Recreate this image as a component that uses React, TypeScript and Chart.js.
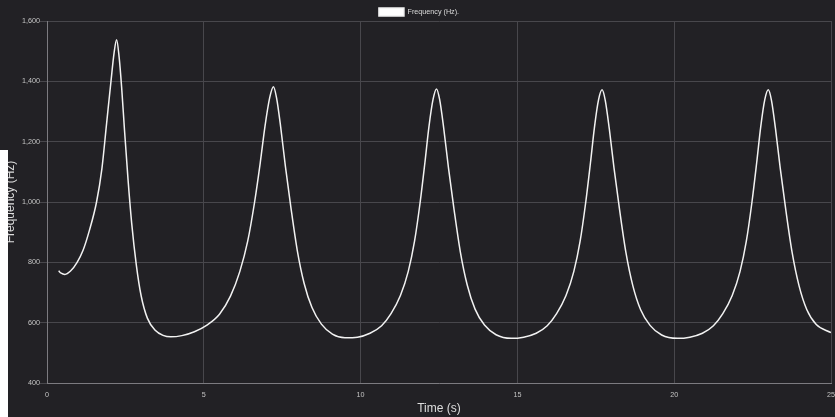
import { useEffect, useRef } from "react";
import { Chart, registerables } from "chart.js";

Chart.register(...registerables);

const BG = "#222125";

const seriesLabel = "Frequency (Hz).";
const xTitle = "Time (s)";
const yTitle = "Frequency (Hz)";

const times = [
  0.37, 0.45, 0.57, 0.75, 0.96, 1.15, 1.35, 1.58, 1.75, 1.9, 2.04, 2.14, 2.22, 2.3, 2.38, 2.47, 2.58, 2.7, 2.85, 3.0,
  3.2, 3.45, 3.7, 3.95, 4.3, 4.7, 5.1, 5.5, 5.85, 6.15, 6.4, 6.62, 6.8, 6.95, 7.1, 7.22, 7.32, 7.45, 7.6, 7.78,
  7.98, 8.2, 8.45, 8.75, 9.1, 9.5, 9.9, 10.3, 10.67, 10.97, 11.27, 11.52, 11.72, 11.9, 12.05, 12.18, 12.31, 12.42,
  12.52, 12.65, 12.8, 12.98, 13.18, 13.4, 13.65, 13.95, 14.32, 14.8, 15.2, 15.6, 15.95, 16.25, 16.55, 16.8, 17.0,
  17.18, 17.33, 17.46, 17.59, 17.7, 17.8, 17.93, 18.08, 18.26, 18.46, 18.68, 18.93, 19.23, 19.6, 20.1, 20.5, 20.9,
  21.25, 21.55, 21.85, 22.1, 22.3, 22.48, 22.63, 22.76, 22.89, 23.0, 23.1, 23.23, 23.38, 23.56, 23.76, 23.98, 24.23,
  24.53, 25.0,
];

const freqs = [
  772, 764, 760, 771, 800, 840, 905, 1000, 1110, 1260, 1400, 1495, 1538, 1480, 1380, 1240, 1080, 930, 790, 690,
  615, 575, 558, 553, 557, 570, 592, 628, 688, 770, 870, 1000, 1130, 1250, 1345, 1382, 1345, 1250, 1120, 980,
  840, 730, 650, 595, 562, 550, 552, 565, 590, 630, 690, 770, 870, 1000, 1130, 1250, 1340, 1375,
  1340, 1245, 1115, 975, 835, 725, 645, 592, 560, 548, 552, 565, 590, 630, 690, 770, 870,
  1000, 1130, 1250, 1340, 1372, 1338, 1243, 1113, 973, 833, 723, 643, 591, 559, 548, 552, 565,
  590, 630, 690, 770, 870, 1000, 1130, 1250, 1340, 1372, 1338, 1243, 1113, 973, 833, 723, 643,
  594, 567,
];

export default function App() {
  const ref = useRef<HTMLCanvasElement | null>(null);

  useEffect(() => {
    if (!ref.current) return;
    Chart.defaults.font.family = "'Liberation Sans', Arial, sans-serif";
    const bgPlugin = {
      id: "bg",
      beforeDraw(c: any) {
        const ctx = c.ctx;
        ctx.save();
        ctx.fillStyle = BG;
        ctx.fillRect(0, 0, c.width, c.height);
        ctx.restore();
      },
    };
    const chart = new Chart(ref.current, {
      type: "line",
      data: {
        datasets: [
          {
            label: seriesLabel,
            data: times.map((t, i) => ({ x: t, y: freqs[i] })),
            borderColor: "#f2f2f2",
            backgroundColor: "#ffffff",
            borderWidth: 1.5,
            pointRadius: 0,
            cubicInterpolationMode: "monotone",
          },
        ],
      },
      options: {
        animation: false,
        responsive: true,
        maintainAspectRatio: false,
        layout: { padding: 0 },
        plugins: {
          legend: {
            display: true,
            maxHeight: 21,
            labels: {
              boxWidth: 25,
              boxHeight: 8,
              padding: 8,
              color: "#dddddd",
              font: { size: 7.2 },
            },
          },
          tooltip: { enabled: false },
        },
        scales: {
          x: {
            type: "linear",
            min: 0,
            max: 25,
            afterFit(scale: any) {
              scale.height = 34;
              scale.paddingRight = 4;
            },
            ticks: { stepSize: 5, color: "#c4c4c4", font: { size: 7.2 }, padding: 8, maxRotation: 0 },
            grid: { color: "#48474c", drawTicks: false },
            border: { color: "#7c7b80" },
            title: { display: true, text: xTitle, color: "#dddddd", font: { size: 12 }, padding: { top: 0, bottom: 1 } },
          },
          y: {
            min: 400,
            max: 1600,
            afterFit(scale: any) {
              scale.width = 44;
            },
            ticks: { stepSize: 200, color: "#c4c4c4", font: { size: 7.2 }, padding: 0 },
            grid: { color: "#48474c", tickLength: 7 },
            border: { color: "#7c7b80" },
            title: { display: true, text: yTitle, color: "#dddddd", font: { size: 12 }, padding: { top: 0, bottom: 0 } },
          },
        },
      },
      plugins: [bgPlugin],
    });
    return () => chart.destroy();
  }, []);

  return (
    <div style={{ position: "fixed", left: 0, top: 0, width: 835, height: 417, background: BG, overflow: "hidden" }}>
      <div style={{ position: "absolute", left: 3, top: 0, width: 832, height: 417 }}>
        <canvas ref={ref} />
      </div>
      <div style={{ position: "absolute", left: 0, top: 150, width: 8, height: 267, background: "#ffffff" }} />
    </div>
  );
}
